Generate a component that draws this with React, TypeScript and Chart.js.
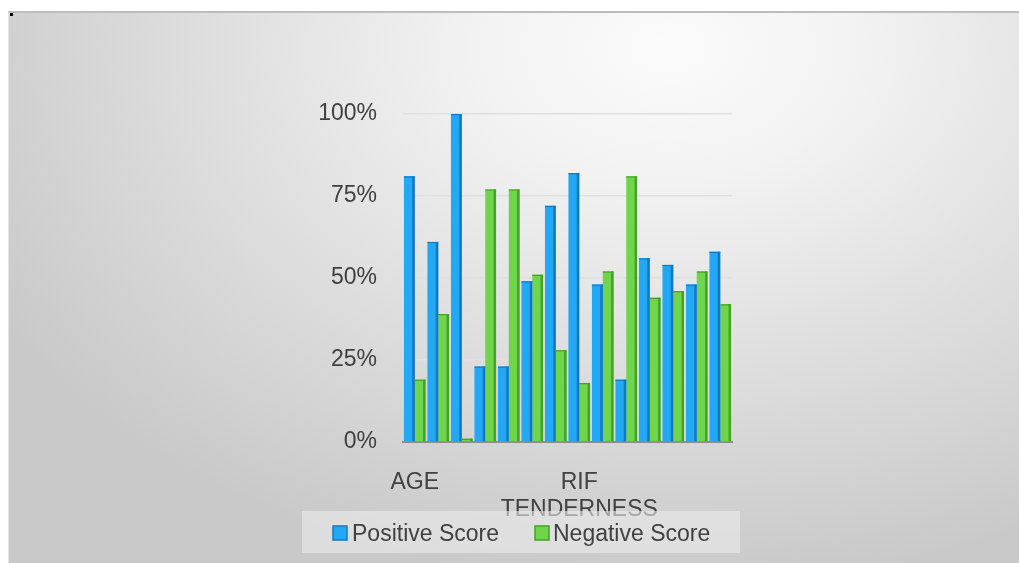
import React, { useEffect, useRef } from "react";
import { Chart, registerables } from "chart.js";

Chart.register(...registerables);

const categories: string[] = [
  "AGE", "", "", "", "", "", "",
  "RIF TENDERNESS", "", "", "", "", "", "",
];
const positiveScore: number[] = [81, 61, 100, 23, 23, 49, 72, 82, 48, 19, 56, 54, 48, 58];
const negativeScore: number[] = [19, 39, 1, 77, 77, 51, 28, 18, 52, 81, 44, 46, 52, 42];
const yTicks: number[] = [0, 25, 50, 75, 100];
const seriesNames: string[] = ["Positive Score", "Negative Score"];

const FONT = "'Liberation Sans', Arial, sans-serif";

const edgePlugin = {
  id: "edgePlugin",
  afterDatasetsDraw(chart: any) {
    const ctx = chart.ctx;
    const edges = ["#1478be", "#44a326"];
    chart.data.datasets.forEach((_: any, di: number) => {
      const meta = chart.getDatasetMeta(di);
      meta.data.forEach((bar: any) => {
        const { x, y, base, width } = bar.getProps(["x", "y", "base", "width"], true);
        const right = x + width / 2;
        ctx.save();
        ctx.fillStyle = edges[di];
        ctx.fillRect(right - 2.5, y, 2.5, base - y);
        ctx.fillRect(x - width / 2, y, width, 1.2);
        ctx.restore();
      });
    });
  },
};

const legendPlugin = {
  id: "customLegend",
  afterDraw(chart: any) {
    const ctx = chart.ctx;
    ctx.save();
    ctx.fillStyle = "rgba(235,235,235,0.6)";
    ctx.fillRect(302, 511, 438, 42);
    const items = [
      { x: 333, tx: 352, fill: "#22a8f5", stroke: "#1478be", label: seriesNames[0] },
      { x: 535, tx: 553, fill: "#6fd64c", stroke: "#44a326", label: seriesNames[1] },
    ];
    ctx.font = `23px ${FONT}`;
    ctx.textBaseline = "alphabetic";
    ctx.textAlign = "left";
    items.forEach((it) => {
      ctx.fillStyle = it.fill;
      ctx.fillRect(it.x, 526, 14, 14);
      ctx.strokeStyle = it.stroke;
      ctx.lineWidth = 1.5;
      ctx.strokeRect(it.x, 526, 14, 14);
      ctx.fillStyle = "#404040";
      ctx.fillText(it.label, it.tx, 541);
    });
    ctx.restore();
  },
};

export default function App() {
  const ref = useRef<HTMLCanvasElement | null>(null);

  useEffect(() => {
    if (!ref.current) return;
    const chart = new Chart(ref.current, {
      type: "bar",
      data: {
        labels: categories,
        datasets: [
          {
            label: seriesNames[0],
            data: positiveScore,
            backgroundColor: "#22a8f5",
            borderWidth: 0,
            barPercentage: 1.0,
            categoryPercentage: 0.92,
          },
          {
            label: seriesNames[1],
            data: negativeScore,
            backgroundColor: "#6fd64c",
            borderWidth: 0,
            barPercentage: 1.0,
            categoryPercentage: 0.92,
          },
        ],
      },
      options: {
        responsive: false,
        animation: false,
        layout: { padding: { top: 114, right: 287, left: 0, bottom: 0 } },
        plugins: {
          legend: { display: false },
          tooltip: { enabled: false },
        },
        scales: {
          x: {
            afterFit: (s: any) => {
              s.height = 121;
            },
            grid: { display: false, drawTicks: false },
            border: { display: true, color: "#8c8c8c", width: 2 },
            ticks: {
              autoSkip: false,
              maxRotation: 0,
              minRotation: 0,
              padding: 27,
              color: "#404040",
              font: { family: FONT, size: 23, lineHeight: 1.18 },
              callback: (_v: any, i: number) => {
                const l = categories[i];
                return l.includes(" ") ? l.split(" ") : l;
              },
            },
          },
          y: {
            min: 0,
            max: 100,
            afterFit: (s: any) => {
              s.width = 403;
            },
            afterBuildTicks: (s: any) => {
              s.ticks = yTicks.map((v) => ({ value: v }));
            },
            grid: { color: "#e0e0e0", drawTicks: false, lineWidth: 1.5 },
            border: { display: false },
            ticks: {
              padding: 26,
              color: "#404040",
              font: { family: FONT, size: 23 },
              callback: (v: any) => `${v}%`,
            },
          },
        },
      },
      plugins: [edgePlugin, legendPlugin],
    });
    return () => chart.destroy();
  }, []);

  return (
    <div style={{ position: "fixed", left: 0, top: 0, right: 0, bottom: 0, background: "#fff", overflow: "hidden" }}>
      <div
        style={{
          position: "absolute",
          left: 8,
          top: 11,
          right: -20,
          bottom: -20,
          borderTop: "2px solid #bdbdbd",
          borderLeft: "1px solid #e4e4e4",
          background:
            "radial-gradient(ellipse 75% 95% at 64% 6%, #fbfbfb 0%, #f2f2f2 25%, #dedede 60%, #c9c9c9 100%)",
        }}
      />
      <div style={{ position: "absolute", left: 10, top: 13, width: 3, height: 3, background: "#000" }} />
      <canvas ref={ref} width={1019} height={563} style={{ position: "absolute", left: 0, top: 0, width: 1019, height: 563 }} />
    </div>
  );
}
